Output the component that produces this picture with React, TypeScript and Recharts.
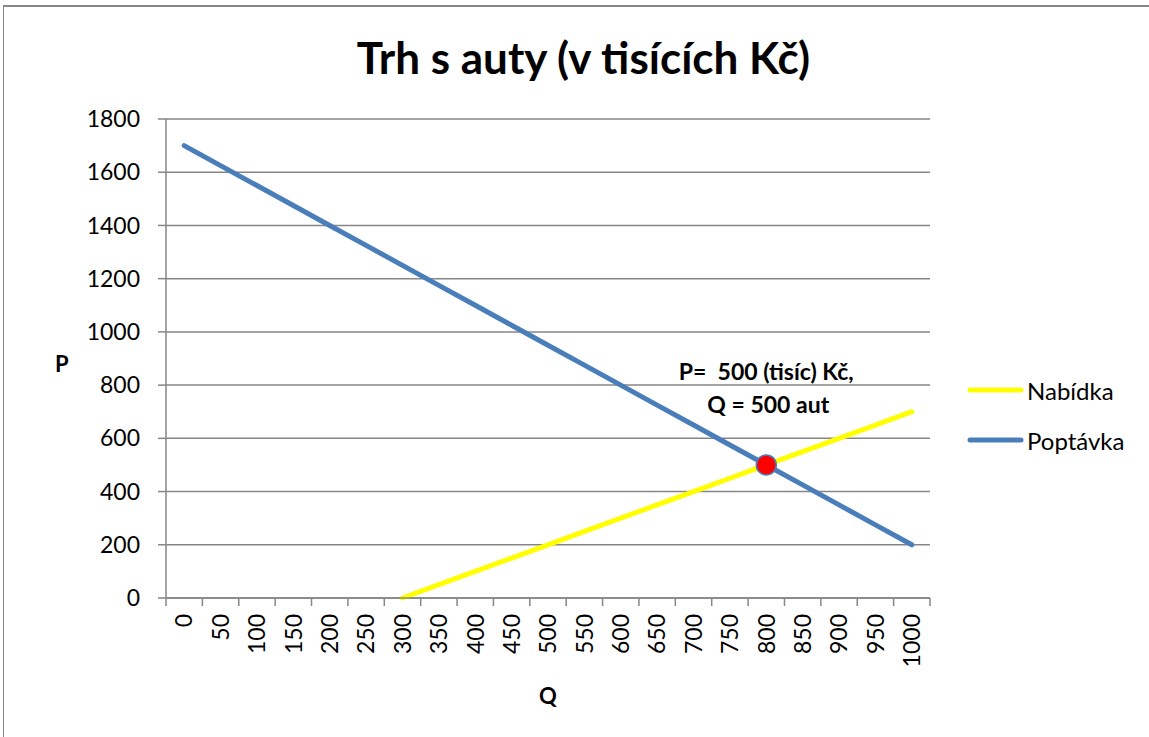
import React from 'react';
import { LineChart, Line, XAxis, YAxis, CartesianGrid, Legend, Label } from 'recharts';

const kategorie = [0, 50, 100, 150, 200, 250, 300, 350, 400, 450, 500, 550, 600, 650, 700, 750, 800, 850, 900, 950, 1000];
const nabidka = [null, null, null, null, null, null, 0, 50, 100, 150, 200, 250, 300, 350, 400, 450, 500, 550, 600, 650, 700];
const poptavka = [1700, 1625, 1550, 1475, 1400, 1325, 1250, 1175, 1100, 1025, 950, 875, 800, 725, 650, 575, 500, 425, 350, 275, 200];
const rovnovaha = [null, null, null, null, null, null, null, null, null, null, null, null, null, null, null, null, 500, null, null, null, null];
const yTicks = [0, 200, 400, 600, 800, 1000, 1200, 1400, 1600, 1800];

const data = kategorie.map((q, i) => ({
  q,
  nabidka: nabidka[i],
  poptavka: poptavka[i],
  bod: rovnovaha[i],
}));

// Excel style: tick marks sit between categories, labels at the categories
const hranice = [...kategorie.map(q => q - 25), 1025];
const xTicks = [...hranice, ...kategorie].sort((a, b) => a - b);

const FONT = 'Lato, "Open Sans", sans-serif';
const GRAY = '#868686';
const BLUE = '#4A7EBB';
const YELLOW = '#FFFF00';

const XTick = (props: any) => {
  const { x, y, payload } = props;
  if (kategorie.includes(payload.value)) {
    return (
      <text
        transform={`translate(${x}, ${y + 16}) rotate(-90)`}
        textAnchor="end"
        dy="0.36em"
        fontSize={23}
        fontFamily={FONT}
        fill="#000"
      >
        {payload.value}
      </text>
    );
  }
  return <line x1={x} y1={y} x2={x} y2={y + 8} stroke={GRAY} strokeWidth={1.5} />;
};

const BodLabel = (props: any) => {
  const { x, y, value } = props;
  if (value == null || x == null) return null;
  return (
    <g fontFamily={FONT} fontWeight="bold" fontSize={23} fill="#000" textAnchor="middle">
      <text x={x} y={y - 85} style={{ whiteSpace: 'pre' }}>{`P=  ${value} (tisíc) Kč,`}</text>
      <text x={x + 2} y={y - 52}>Q = 500 aut</text>
    </g>
  );
};

const LegendContent = (props: any) => {
  const items = (props.payload || []).filter((p: any) => p.type !== 'none');
  return (
    <div style={{ fontFamily: FONT, fontSize: 24 }}>
      {items.map((p: any) => (
        <div key={p.value} style={{ display: 'flex', alignItems: 'center', height: 50 }}>
          <svg width={58} height={10} style={{ marginRight: 2 }}>
            <line x1={3} y1={5} x2={54} y2={5} stroke={p.color} strokeWidth={5} strokeLinecap="round" />
          </svg>
          <span>{p.value}</span>
        </div>
      ))}
    </div>
  );
};

export default function App() {
  return (
    <div style={{ position: 'absolute', left: 0, top: 0, width: 1149, height: 737, background: '#fff', overflow: 'hidden', fontFamily: FONT }}>
      <div style={{ position: 'absolute', left: 3, top: 5, width: 1200, height: 800, borderLeft: `1.5px solid ${GRAY}`, borderTop: `2px solid ${GRAY}` }} />
      <div style={{ position: 'absolute', left: 0, width: 1149, top: 31, textAlign: 'center', fontSize: 44, fontWeight: 'bold', color: '#000', paddingLeft: 18, boxSizing: 'border-box' }}>
        Trh s auty (v tisících Kč)
      </div>
      <LineChart
        width={1149}
        height={737}
        data={data}
        margin={{ top: 119, right: 219, left: 0, bottom: 29 }}
        style={{ position: 'absolute', left: 0, top: 0 }}
      >
        <CartesianGrid vertical={false} stroke={GRAY} strokeWidth={1.5} />
        <XAxis
          dataKey="q"
          type="number"
          domain={[-25, 1025]}
          ticks={xTicks}
          interval={0}
          tick={<XTick />}
          tickLine={false}
          tickSize={0}
          tickMargin={0}
          axisLine={{ stroke: GRAY, strokeWidth: 1.5 }}
          height={110}
        >
          <Label value="Q" position="insideBottom" offset={4} style={{ fontFamily: FONT, fontWeight: 'bold', fontSize: 22, fill: '#000' }} />
        </XAxis>
        <YAxis
          type="number"
          domain={[0, 1800]}
          ticks={yTicks}
          interval={0}
          width={166}
          tickSize={8}
          tickMargin={18}
          tick={{ fontSize: 23, fontFamily: FONT, fill: '#000' }}
          tickLine={{ stroke: GRAY, strokeWidth: 1.5 }}
          axisLine={{ stroke: GRAY, strokeWidth: 1.5 }}
        >
          <Label value="P" position="insideLeft" offset={55} dy={6} style={{ fontFamily: FONT, fontWeight: 'bold', fontSize: 22, fill: '#000', textAnchor: 'start' }} />
        </YAxis>
        <Legend
          layout="vertical"
          align="center"
          verticalAlign="middle"
          content={<LegendContent />}
          wrapperStyle={{ left: 967, top: 365, width: 180 }}
        />
        <Line
          name="Nabídka"
          dataKey="nabidka"
          stroke={YELLOW}
          strokeWidth={5}
          strokeLinecap="round"
          dot={false}
          activeDot={false}
          isAnimationActive={false}
        />
        <Line
          name="Poptávka"
          dataKey="poptavka"
          stroke={BLUE}
          strokeWidth={5}
          strokeLinecap="round"
          dot={false}
          activeDot={false}
          isAnimationActive={false}
        />
        <Line
          name="Rovnováha"
          dataKey="bod"
          stroke="none"
          legendType="none"
          dot={{ r: 10, fill: '#FF0000', stroke: BLUE, strokeWidth: 1.5 }}
          activeDot={false}
          label={<BodLabel />}
          isAnimationActive={false}
        />
      </LineChart>
    </div>
  );
}
